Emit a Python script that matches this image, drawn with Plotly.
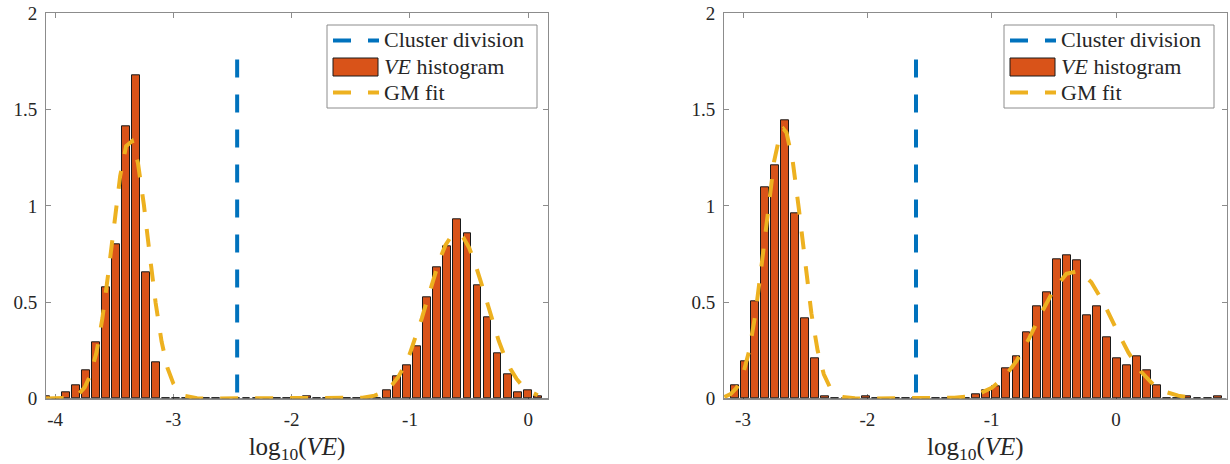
import plotly.graph_objects as go

# ---------------- data ----------------
# Left panel histogram (normalised), bins of equal width
left_bin_start = -4.080
left_bin_width = 0.0849
left_hist = [0.012, 0.0, 0.032, 0.070, 0.148, 0.292, 0.576, 0.800, 1.413, 1.676,
             0.657, 0.188, 0, 0, 0, 0, 0, 0, 0, 0,
             0, 0, 0, 0, 0, 0, 0.010, 0, 0, 0,
             0, 0, 0, 0, 0.044, 0.113, 0.174, 0.269, 0.526, 0.682,
             0.789, 0.931, 0.858, 0.590, 0.422, 0.235, 0.127, 0.034, 0.044, 0.013]

left_gm_x = [-4.08, -4.0, -3.9, -3.85, -3.8, -3.75, -3.7, -3.65, -3.6, -3.55,
             -3.5, -3.45, -3.4, -3.35, -3.3, -3.25, -3.2, -3.15, -3.1, -3.05,
             -3.0, -2.95, -2.9, -2.85, -2.8, -2.7, -2.5, -2.0, -1.6, -1.5,
             -1.4, -1.3, -1.25, -1.2, -1.15, -1.1, -1.05, -1.0, -0.95, -0.9,
             -0.85, -0.8, -0.75, -0.7, -0.65, -0.6, -0.55, -0.5, -0.45, -0.4,
             -0.35, -0.3, -0.25, -0.2, -0.15, -0.1, -0.05, 0.0, 0.05, 0.08]
left_gm_y = [0.0, 0.0003, 0.003, 0.009, 0.024, 0.058, 0.124, 0.240, 0.417, 0.652,
             0.915, 1.155, 1.310, 1.336, 1.224, 1.008, 0.746, 0.496, 0.296, 0.159,
             0.077, 0.033, 0.013, 0.005, 0.001, 0.0, 0.0, 0.0, 0.0, 0.001,
             0.004, 0.015, 0.027, 0.045, 0.072, 0.111, 0.165, 0.234, 0.318, 0.416,
             0.520, 0.625, 0.720, 0.796, 0.844, 0.858, 0.837, 0.783, 0.702, 0.605,
             0.499, 0.395, 0.300, 0.219, 0.153, 0.103, 0.066, 0.041, 0.024, 0.017]
left_division = -2.461
left_division_top = 1.76

# Right panel
right_bin_start = -3.066
right_bin_width = 0.0809
right_hist = [0.070, 0.191, 0.503, 1.098, 1.210, 1.444, 0.962, 0.417, 0.207, 0.013,
              0, 0, 0, 0.013, 0, 0, 0, 0, 0, 0,
              0, 0, 0, 0, 0.022, 0.044, 0.061, 0.157, 0.217, 0.344,
              0.481, 0.552, 0.725, 0.741, 0.716, 0.430, 0.481, 0.318, 0.209, 0.173,
              0.217, 0.145, 0.070, 0, 0, 0.010, 0, 0, 0.013]

right_gm_x = [-3.15, -3.1, -3.05, -3.0, -2.95, -2.9, -2.85, -2.8, -2.75, -2.7,
              -2.675, -2.65, -2.6, -2.55, -2.5, -2.45, -2.4, -2.35, -2.3, -2.25,
              -2.2, -2.1, -2.0, -1.6, -1.4, -1.3, -1.2, -1.1, -1.0, -0.9,
              -0.8, -0.7, -0.6, -0.5, -0.4, -0.3, -0.2, -0.1, 0.0, 0.1,
              0.2, 0.3, 0.4, 0.5, 0.6, 0.65]
right_gm_y = [0.008, 0.023, 0.057, 0.126, 0.249, 0.441, 0.696, 0.980, 1.231, 1.380,
              1.400, 1.380, 1.231, 0.980, 0.696, 0.441, 0.249, 0.126, 0.057, 0.023,
              0.008, 0.001, 0.0, 0.0, 0.001, 0.004, 0.010, 0.025, 0.055, 0.109,
              0.195, 0.311, 0.444, 0.566, 0.647, 0.662, 0.605, 0.496, 0.363, 0.238,
              0.140, 0.073, 0.034, 0.015, 0.005, 0.003]
right_division = -1.609
right_division_top = 1.76

legend_labels = ["Cluster division", "<i>VE</i> histogram", "GM fit"]

left_xticks = [-4, -3, -2, -1, 0]
left_xticktext = ["-4", "-3", "-2", "-1", "0"]
right_xticks = [-3, -2, -1, 0]
right_xticktext = ["-3", "-2", "-1", "0"]
yticks = [0, 0.5, 1, 1.5, 2]
yticktext = ["0", "0.5", "1", "1.5", "2"]

left_xrange = [-4.077, 0.167]
right_xrange = [-3.153, 0.890]
yrange = [0, 2]

# ---------------- style ----------------
BLUE = "#0072BD"
ORANGE = "#D95319"
YELLOW = "#EDB120"
AXIS = "#8c8c8c"
TXT = "#262626"
FONT = "'Liberation Serif', 'Times New Roman', 'DejaVu Serif', serif"
DASH = "18px,17px"

W, H = 1230, 464

fig = go.Figure()

panels = [
    dict(start=left_bin_start, width=left_bin_width, hist=left_hist, gx=left_gm_x, gy=left_gm_y,
         div=left_division, top=left_division_top, xa="x", ya="y", xr=left_xrange, lgx=0),
    dict(start=right_bin_start, width=right_bin_width, hist=right_hist, gx=right_gm_x, gy=right_gm_y,
         div=right_division, top=right_division_top, xa="x2", ya="y2", xr=right_xrange, lgx=677),
]

for p in panels:
    centers = [p["start"] + i * p["width"] for i in range(len(p["hist"]))]
    fig.add_trace(go.Bar(
        x=centers, y=p["hist"], width=0.78 * p["width"],
        marker=dict(color=ORANGE, line=dict(color="#1a1a1a", width=1)),
        name=legend_labels[1], showlegend=False,
        xaxis=p["xa"], yaxis=p["ya"],
    ))
for p in panels:
    # bar baseline
    fig.add_trace(go.Scatter(
        x=p["xr"], y=[0, 0], mode="lines", line=dict(color="#1a1a1a", width=1),
        showlegend=False, hoverinfo="skip", xaxis=p["xa"], yaxis=p["ya"],
    ))
    # drawn top-down so the dash pattern starts at the top end
    fig.add_trace(go.Scatter(
        x=[p["div"], p["div"]], y=[p["top"], 0], mode="lines",
        line=dict(color=BLUE, width=4, dash=DASH),
        name=legend_labels[0], showlegend=False,
        xaxis=p["xa"], yaxis=p["ya"],
    ))
    fig.add_trace(go.Scatter(
        x=p["gx"], y=p["gy"], mode="lines",
        line=dict(color=YELLOW, width=4, dash=DASH),
        name=legend_labels[2], showlegend=False,
        xaxis=p["xa"], yaxis=p["ya"],
    ))

xdom_left = [46 / W, 548 / W]
xdom_right = [724 / W, 1226.7 / W]
ydom = [1 - 398.5 / H, 1 - 13.3 / H]

axis_common = dict(
    showline=True, mirror="allticks", linecolor=AXIS, linewidth=1,
    ticks="inside", ticklen=5, tickcolor=AXIS, tickwidth=1,
    showgrid=False, zeroline=False, automargin=False,
    tickfont=dict(family=FONT, size=19, color=TXT),
    layer="below traces",
)

title_txt = "log<sub>10</sub>(<i>VE</i>)"
title_font = dict(family=FONT, size=25, color=TXT)

# ---------------- legends (drawn as boxes in pixel space) ----------------
def px(x):
    return x / W

def py(y):
    return 1 - y / H

shapes = []
annotations = []
for p in panels:
    o = p["lgx"]
    shapes.append(dict(type="rect", xref="paper", yref="paper",
                       x0=px(327 + o), x1=px(537 + o), y0=py(108), y1=py(25),
                       line=dict(color=AXIS, width=1), fillcolor="white", layer="above"))
    shapes.append(dict(type="line", xref="paper", yref="paper",
                       x0=px(333 + o), x1=px(379 + o), y0=py(40.5), y1=py(40.5),
                       line=dict(color=BLUE, width=4, dash=DASH), layer="above"))
    shapes.append(dict(type="rect", xref="paper", yref="paper",
                       x0=px(333 + o), x1=px(378 + o), y0=py(76), y1=py(58),
                       line=dict(color="#1a1a1a", width=1), fillcolor=ORANGE, layer="above"))
    shapes.append(dict(type="line", xref="paper", yref="paper",
                       x0=px(333 + o), x1=px(379 + o), y0=py(92.5), y1=py(92.5),
                       line=dict(color=YELLOW, width=4, dash=DASH), layer="above"))
    for lbl, yc in zip(legend_labels, [39.5, 66.5, 92.5]):
        annotations.append(dict(text=lbl, xref="paper", yref="paper",
                                x=px(382 + o), y=py(yc), xanchor="left", yanchor="middle",
                                showarrow=False, font=dict(family=FONT, size=22, color=TXT)))

fig.update_layout(
    width=W, height=H,
    margin=dict(l=0, r=0, t=0, b=0),
    paper_bgcolor="white", plot_bgcolor="white",
    bargap=0, barmode="overlay",
    showlegend=False,
    xaxis=dict(domain=xdom_left, range=left_xrange, tickvals=left_xticks, ticktext=left_xticktext,
               anchor="y", ticklabelstandoff=4,
               title=dict(text=title_txt, font=title_font, standoff=9),
               **axis_common),
    yaxis=dict(domain=ydom, range=yrange, tickvals=yticks, ticktext=yticktext,
               anchor="x", ticklabelstandoff=4, **axis_common),
    xaxis2=dict(domain=xdom_right, range=right_xrange, tickvals=right_xticks, ticktext=right_xticktext,
                anchor="y2", ticklabelstandoff=4,
                title=dict(text=title_txt, font=title_font, standoff=9),
                **axis_common),
    yaxis2=dict(domain=ydom, range=yrange, tickvals=yticks, ticktext=yticktext,
                anchor="x2", ticklabelstandoff=4, **axis_common),
    shapes=shapes,
    annotations=annotations,
)

fig.write_html("out.html")
